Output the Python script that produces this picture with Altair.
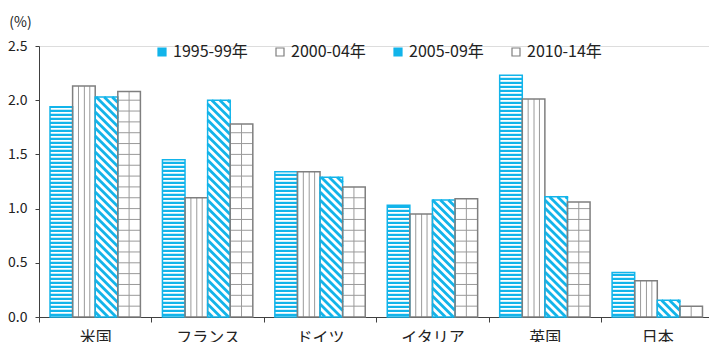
import altair as alt
import pandas as pd

# ---- data ----
categories = ["米国", "フランス", "ドイツ", "イタリア", "英国", "日本"]
series = ["1995-99年", "2000-04年", "2005-09年", "2010-14年"]
v1995 = [1.94, 1.45, 1.34, 1.03, 2.23, 0.41]
v2000 = [2.13, 1.10, 1.34, 0.95, 2.01, 0.335]
v2005 = [2.03, 2.00, 1.29, 1.08, 1.11, 0.155]
v2010 = [2.08, 1.78, 1.20, 1.09, 1.06, 0.10]
y_ticks = [0, 0.5, 1.0, 1.5, 2.0, 2.5]
values = [v1995, v2000, v2005, v2010]

# ---- style / layout ----
BLUE = "#12b4ea"
GRAY = "#7f7f7f"
LINE = "#9a9a9a"
AXIS = "#404040"
FONT = "Noto Sans CJK JP"
PLOT_W, PLOT_H = 670, 271
X_MIN, X_MAX = -0.5, 5.46
Y_MAX = 2.5
PXU_X = PLOT_W / (X_MAX - X_MIN)
PXU_Y = PLOT_H / Y_MAX
BW = 0.201  # bar width in category units

bars, hst, vln, hln, dg = [], [], [], [], []
for j, s in enumerate(series):
    for i, c in enumerate(categories):
        v = values[j][i]
        x0 = i + (j - 2) * BW
        x1 = x0 + BW
        bars.append(dict(series=s, cat=c, x0=x0, x1=x1, v=v))
        if j == 0:  # horizontal stripes
            step, thick = 4 / PXU_Y, 2.2 / PXU_Y
            k = 0
            while k * step + 1 / PXU_Y < v:
                y0 = k * step + 1 / PXU_Y
                hst.append(dict(x0=x0, x1=x1, y0=y0, y1=min(y0 + thick, v)))
                k += 1
        elif j == 1:  # vertical lines
            for q in (0.26, 0.52, 0.76):
                vln.append(dict(x=x0 + BW * q, y0=0, y1=v))
        elif j == 3:  # grid
            vln.append(dict(x=x0 + BW * 0.5, y0=0, y1=v))
            k = 1
            while 0.1 * k < v - 0.02:
                hln.append(dict(x0=x0, x1=x1, y=0.1 * k))
                k += 1
        elif j == 2:  # diagonal stripes
            W, H, P = BW * PXU_X, v * PXU_Y, 8.0
            k = 1
            while k * P - 3 < W + H:
                cc = k * P - 3
                xa = max(0.0, cc - H)
                ya = cc - xa
                xb = min(W, cc)
                yb = cc - xb
                if xb - xa > 0.8:
                    dg.append(dict(xa=x0 + xa / PXU_X, ya=ya / PXU_Y,
                                   xb=x0 + xb / PXU_X, yb=yb / PXU_Y))
                k += 1

bars_df = pd.DataFrame(bars)
hst_df = pd.DataFrame(hst)
vln_df = pd.DataFrame(vln)
hln_df = pd.DataFrame(hln)
dg_df = pd.DataFrame(dg)

label_expr = "[" + ",".join("'%s'" % c for c in categories) + "][datum.value]"

x_scale = alt.Scale(domain=[X_MIN, X_MAX], nice=False, zero=False)
y_scale = alt.Scale(domain=[0, Y_MAX], nice=False)
x_axis = alt.Axis(values=list(range(len(categories))), labelExpr=label_expr,
                  tickOffset=-PXU_X / 2, labelOffset=PXU_X / 2, tickSize=5,
                  labelFontSize=16, labelPadding=7, labelFont=FONT,
                  labelColor="#222222", domainColor=AXIS, tickColor=AXIS,
                  grid=False, title=None, labelFlush=False, labelOverlap=False,
                  labelBound=False)
y_axis = alt.Axis(values=y_ticks, format=".1f", tickSize=4, labelPadding=8,
                  labelFontSize=14, labelFont=FONT, labelColor="#222222",
                  domainColor=AXIS, tickColor=AXIS, grid=False,
                  title="(%)", titleAngle=0, titleX=-19, titleY=-24,
                  titleAlign="center", titleBaseline="middle", titleFont=FONT,
                  titleFontSize=14, titleFontWeight="normal", titleColor="#222222")


def X(f):
    return alt.X(f, scale=x_scale, axis=x_axis)


def Y(f):
    return alt.Y(f, scale=y_scale, axis=y_axis)


base = alt.Chart(bars_df).mark_rect(fill="white").encode(
    x=X("x0:Q"), x2="x1:Q", y=Y("zero:Q"), y2="v:Q"
).transform_calculate(zero="0")

stripes = alt.Chart(hst_df).mark_rect(fill=BLUE).encode(
    x=X("x0:Q"), x2="x1:Q", y=Y("y0:Q"), y2="y1:Q")

vlines = alt.Chart(vln_df).mark_rule(color=LINE, strokeWidth=1).encode(
    x=X("x:Q"), y=Y("y0:Q"), y2="y1:Q")

hlines = alt.Chart(hln_df).mark_rule(color=LINE, strokeWidth=1).encode(
    x=X("x0:Q"), x2="x1:Q", y=Y("y:Q"))

diag = alt.Chart(dg_df).mark_rule(color=BLUE, strokeWidth=2.8).encode(
    x=X("xa:Q"), y=Y("ya:Q"), x2="xb:Q", y2="yb:Q")

legend = alt.Legend(orient="none", direction="horizontal", legendX=115, legendY=-2,
                    title=None, symbolType="square", symbolSize=64,
                    symbolStrokeWidth=1.2, labelFontSize=16, labelFont=FONT,
                    labelColor="#222222", labelOffset=3, columnPadding=24)

outline = alt.Chart(bars_df).mark_rect(fillOpacity=0, strokeWidth=1.5).encode(
    x=X("x0:Q"), x2="x1:Q", y=Y("zero:Q"), y2="v:Q",
    stroke=alt.Stroke("series:N", scale=alt.Scale(domain=series, range=[BLUE, GRAY, BLUE, GRAY]),
                      legend=legend),
    fill=alt.Fill("series:N", scale=alt.Scale(domain=series, range=[BLUE, "white", BLUE, "white"]),
                  legend=legend),
).transform_calculate(zero="0")

chart = alt.layer(base, stripes, vlines, hlines, diag, outline).properties(
    width=PLOT_W, height=PLOT_H,
    autosize=alt.AutoSizeParams(type="none"),
    padding={"left": 39, "top": 46, "right": 0, "bottom": 25},
).configure_view(stroke=None).configure(background="white")

chart.save("out.html", embed_options={"renderer": "svg", "actions": False})
